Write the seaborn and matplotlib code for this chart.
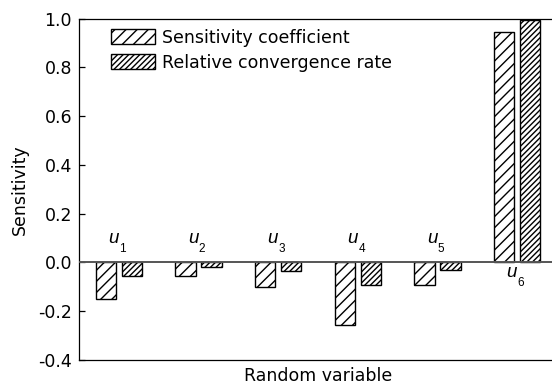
import matplotlib
matplotlib.use("Agg")
import matplotlib.pyplot as plt
import seaborn as sns
import pandas as pd
from matplotlib.patches import Patch

variables = ["u1", "u2", "u3", "u4", "u5", "u6"]
var_letters = ["u", "u", "u", "u", "u", "u"]
var_index = ["1", "2", "3", "4", "5", "6"]
sens_coef = [-0.150, -0.055, -0.101, -0.256, -0.093, 0.946]
rel_conv = [-0.057, -0.019, -0.037, -0.094, -0.030, 0.994]
series = ["Sensitivity coefficient", "Relative convergence rate"]
yticks = [-0.4, -0.2, 0.0, 0.2, 0.4, 0.6, 0.8, 1.0]

df = pd.DataFrame({
    "var": variables * 2,
    "val": sens_coef + rel_conv,
    "series": [series[0]] * len(variables) + [series[1]] * len(variables),
})

sns.set_style("white")
plt.rcParams["font.family"] = ["DejaVu Sans"]
plt.rcParams["hatch.linewidth"] = 1.0
plt.rcParams["text.color"] = "black"
plt.rcParams["axes.labelcolor"] = "black"
plt.rcParams["xtick.color"] = "black"
plt.rcParams["ytick.color"] = "black"

FS = 12.5
fig = plt.figure(figsize=(5.52, 3.85), dpi=100)
ax = fig.add_axes([0.1431, 0.0657, 0.866, 0.8855])

sns.barplot(data=df, x="var", y="val", hue="series", order=variables,
            hue_order=series, palette=["white", "white"], width=0.651,
            gap=0.217, edgecolor="black", linewidth=1.0, legend=False,
            saturation=1, ax=ax)

hatches = ["///", "//////"]
for cont, h in zip(ax.containers, hatches):
    for bar in cont:
        bar.set_hatch(h)
        bar.set_edgecolor("black")
        bar.set_zorder(2)

ax.axhline(0, color="#555555", lw=1.4, zorder=3)

ax.set_xlim(-0.5, 5.5)
ax.set_ylim(-0.4, 1.0)
ax.set_yticks(yticks)
ax.set_yticklabels([f"{t:.1f}" for t in yticks])
ax.set_xticks([])
ax.tick_params(axis="y", direction="in", length=4, width=0.9, labelsize=FS,
               pad=5, left=True, colors="black")
for s in ax.spines.values():
    s.set_linewidth(0.9)
    s.set_color("black")

ax.set_ylabel("Sensitivity", fontsize=FS, labelpad=7, color="black")
ax.set_xlabel("Random variable", fontsize=FS, labelpad=5, color="black")

for i, (let, idx) in enumerate(zip(var_letters, var_index)):
    y = 0.080 if i < 5 else -0.059
    ax.text(i - 0.135, y, let, fontsize=13.5, ha="left", va="baseline",
            family="Liberation Sans", style="italic", color="black")
    ax.annotate(idx, xy=(i - 0.135, y), xycoords="data",
                xytext=(8.0, -6.5), textcoords="offset points",
                fontsize=8.5, ha="left", va="baseline",
                family="Liberation Sans", color="black")

handles = [Patch(facecolor="white", edgecolor="black", hatch=h, lw=1.0)
           for h in hatches]
ax.legend(handles, series, loc="upper left", bbox_to_anchor=(0.067, 0.971),
          frameon=False, fontsize=FS, handlelength=2.53, handleheight=0.98,
          labelspacing=0.4, handletextpad=0.4, borderpad=0,
          borderaxespad=0, labelcolor="black")

fig.savefig("out.png", dpi=100)
